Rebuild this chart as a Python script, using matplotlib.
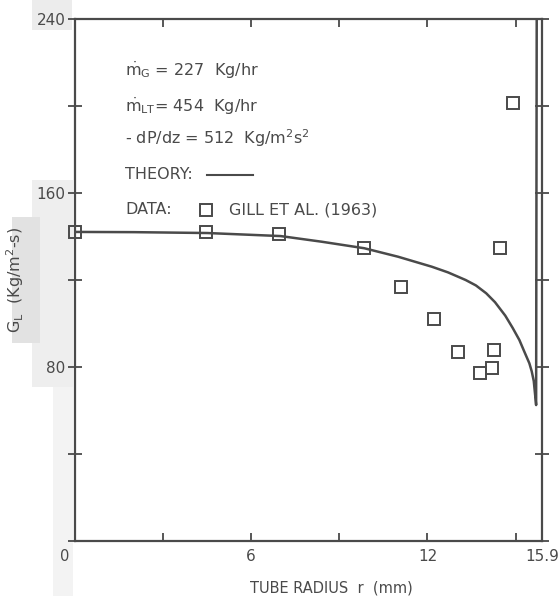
import matplotlib
matplotlib.use("Agg")
import matplotlib.pyplot as plt
from matplotlib.patches import Rectangle

# theory curve (r in mm, G_L in Kg/m2-s)
r_theory = [0.0, 2.0, 4.5, 7.0, 8.4, 9.85, 11.0, 12.15, 12.7, 13.3, 13.65, 14.0, 14.3,
            14.65, 14.9, 15.13, 15.3, 15.47, 15.55, 15.62, 15.70, 15.72]
G_theory = [142.1, 142.0, 141.6, 140.2, 137.6, 134.6, 130.7, 126.1, 123.5, 120.0, 117.5, 113.9, 109.8,
            103.6, 98.0, 92.4, 87.0, 81.7, 78.0, 73.5, 62.5, 240.0]

# Gill et al. (1963) data points
r_data = [0.0, 4.47, 6.95, 9.85, 11.1, 12.22, 13.05, 13.79, 14.19, 14.27, 14.48, 14.9]
G_data = [142.1, 142.1, 141.1, 134.6, 116.9, 101.9, 86.8, 77.1, 79.4, 87.8, 134.6, 201.2]

x_ticks = [0, 3, 6, 9, 12, 15, 15.9]
x_labels = ["", "", "6", "", "12", "", "15.9"]
y_ticks = [0, 40, 80, 120, 160, 200, 240]
y_labels = ["", "", "80", "", "160", "", "240"]

info_lines = [
    r"$\dot{\mathrm{m}}_\mathrm{G}$ = 227  Kg/hr",
    r"$\dot{\mathrm{m}}_\mathrm{LT}$= 454  Kg/hr",
    r"- dP/dz = 512  Kg/m$^2$s$^2$",
]

ink = "#4a4a4a"
W, H = 560, 596

fig = plt.figure(figsize=(W / 100, H / 100), dpi=100)
fig.patch.set_facecolor("white")

# scan shading on the left margin
for (x0, y0, x1, y1, c) in [(32, 0, 72, 30, "#ececec"), (32, 180, 73, 387, "#eeeeee"),
                             (53, 387, 73, 596, "#f3f3f3"), (12, 217, 40, 343, "#e2e2e2")]:
    fig.patches.append(Rectangle((x0 / W, 1 - y1 / H), (x1 - x0) / W, (y1 - y0) / H,
                                 transform=fig.transFigure, color=c, zorder=-5, lw=0))

ax = fig.add_axes([75 / W, 1 - 541 / H, 467 / W, 522 / H])
ax.set_facecolor("none")
ax.set_zorder(2)
ax.set_xlim(0, 15.9)
ax.set_ylim(0, 240)

ax.plot(r_theory, G_theory, color=ink, lw=1.8)
ax.plot(r_data, G_data, ls="none", marker="s", ms=8.5, mfc="none", mec=ink, mew=1.4, clip_on=False)

ax.set_xticks(x_ticks)
ax.set_xticklabels(x_labels)
ax.set_yticks(y_ticks)
ax.set_yticklabels(y_labels)
ax.tick_params(axis="x", direction="in", top=True, length=6, width=1.3, color=ink,
               labelcolor=ink, labelsize=11, pad=6)
ax.tick_params(axis="y", direction="inout", right=True, length=10, width=1.3, color=ink,
               labelcolor=ink, labelsize=11, pad=2)
for s in ax.spines.values():
    s.set_color(ink)
    s.set_linewidth(1.6)

ax.text(-0.34, -7, "0", color=ink, fontsize=10.5, ha="center", va="center", clip_on=False)

ax.set_xlabel("TUBE RADIUS  r  (mm)", color=ink, fontsize=10.5)
ax.xaxis.set_label_coords(0.55, -0.075)
ax.set_ylabel(r"G$_\mathrm{L}$  (Kg/m$^2$-s)", color=ink, fontsize=11.5)
ax.yaxis.set_label_coords(-0.105, 0.5)

# annotation block
tx = 1.71
for txt, gy in zip(info_lines, [216.3, 200.0, 185.3]):
    ax.text(tx, gy, txt, color=ink, fontsize=11.5, va="center")
ax.text(tx, 168.3, "THEORY:", color=ink, fontsize=11.5, va="center")
ax.plot([4.49, 6.06], [168.3, 168.3], color=ink, lw=1.5)
ax.text(tx, 152.4, "DATA:", color=ink, fontsize=11.5, va="center")
ax.plot([4.45], [152.4], marker="s", ms=8, mfc="none", mec=ink, mew=1.4)
ax.text(5.24, 152.4, "GILL ET AL. (1963)", color=ink, fontsize=11.5, va="center")

fig.savefig("out.png", dpi=100)
